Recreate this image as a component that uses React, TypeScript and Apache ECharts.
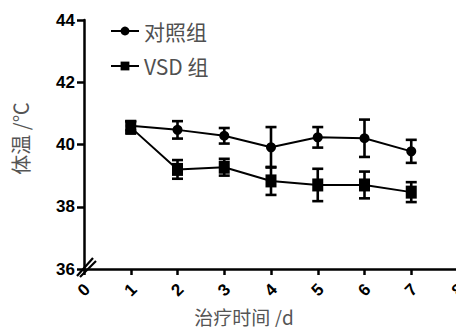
import React, { useEffect, useRef } from "react";
import * as echarts from "echarts";

const days = [1, 2, 3, 4, 5, 6, 7];
const controlMean = [40.6, 40.47, 40.28, 39.91, 40.23, 40.2, 39.78];
const controlErr = [0.15, 0.28, 0.25, 0.65, 0.33, 0.6, 0.37];
const vsdMean = [40.55, 39.2, 39.27, 38.83, 38.7, 38.7, 38.47];
const vsdErr = [0.2, 0.3, 0.27, 0.45, 0.52, 0.43, 0.32];
const seriesNames = ["对照组", "VSD 组"];
const xAxisTitle = "治疗时间 /d";
const yAxisTitle = "体温 /℃";

const errData = (mean: number[], err: number[]) =>
  days.map((d, i) => [d, mean[i] - err[i], mean[i] + err[i]]);

const renderErr = (params: any, api: any) => {
  const x = api.value(0);
  const lo = api.coord([x, api.value(1)]);
  const hi = api.coord([x, api.value(2)]);
  const cap = 5.5;
  const style = { stroke: "#000", lineWidth: 2.6 };
  return {
    type: "group",
    children: [
      { type: "line", shape: { x1: lo[0], y1: lo[1], x2: hi[0], y2: hi[1] }, style },
      { type: "line", shape: { x1: lo[0] - cap, y1: lo[1], x2: lo[0] + cap, y2: lo[1] }, style },
      { type: "line", shape: { x1: hi[0] - cap, y1: hi[1], x2: hi[0] + cap, y2: hi[1] }, style },
    ],
  };
};

export default function App() {
  const ref = useRef<HTMLDivElement>(null);
  useEffect(() => {
    if (!ref.current) return;
    const chart = echarts.init(ref.current, undefined, { renderer: "svg" });
    const labelFont = { fontFamily: "Arial, 'Liberation Sans', sans-serif", fontWeight: "bold" as const, fontSize: 17, color: "#000" };
    const cjk = "'Noto Sans CJK SC', Arial, sans-serif";
    chart.setOption({
      animation: false,
      backgroundColor: "#fff",
      grid: { left: 84, right: -2, top: 20, bottom: 58, containLabel: false, outerBoundsMode: "none" },
      legend: {
        data: seriesNames,
        orient: "vertical",
        left: 105,
        top: 15,
        itemWidth: 28,
        itemHeight: 11,
        itemGap: 13,
        textStyle: { fontSize: 21, color: "#505050", fontFamily: cjk, lineHeight: 22 },
      },
      xAxis: {
        type: "value",
        min: 0,
        max: 8,
        interval: 1,
        name: xAxisTitle,
        nameLocation: "middle",
        nameGap: 37,
        nameTextStyle: { fontSize: 19, color: "#555", fontFamily: cjk, lineHeight: 20, padding: [0, 54, 0, 0] },
        axisLine: { lineStyle: { color: "#000", width: 2.5 } },
        axisTick: { lineStyle: { color: "#000", width: 2.5 }, length: 6 },
        axisLabel: { ...labelFont, rotate: 45, align: "center", verticalAlign: "middle", margin: 21 },
        splitLine: { show: false },
      },
      yAxis: {
        type: "value",
        min: 36,
        max: 44,
        interval: 2,
        name: yAxisTitle,
        nameLocation: "middle",
        nameGap: 54,
        nameTextStyle: { fontSize: 20, color: "#555", fontFamily: cjk, padding: [0, 0, 0, 12] },
        axisLine: { show: true, lineStyle: { color: "#000", width: 2.5 } },
        axisTick: { show: true, lineStyle: { color: "#000", width: 2.5 }, length: 7 },
        axisLabel: { ...labelFont, margin: 9 },
        splitLine: { show: false },
      },
      series: [
        {
          name: seriesNames[0],
          type: "line",
          data: days.map((d, i) => [d, controlMean[i]]),
          symbol: "circle",
          symbolSize: 10,
          itemStyle: { color: "#000" },
          lineStyle: { color: "#000", width: 2 },
          z: 3,
        },
        {
          name: seriesNames[1],
          type: "line",
          data: days.map((d, i) => [d, vsdMean[i]]),
          symbol: "rect",
          symbolSize: [11, 13],
          itemStyle: { color: "#000" },
          lineStyle: { color: "#000", width: 2 },
          z: 3,
        },
        {
          type: "custom",
          renderItem: renderErr,
          data: errData(controlMean, controlErr),
          encode: { x: 0, y: [1, 2] },
          z: 2,
          silent: true,
        },
        {
          type: "custom",
          renderItem: renderErr,
          data: errData(vsdMean, vsdErr),
          encode: { x: 0, y: [1, 2] },
          z: 2,
          silent: true,
        },
      ],
    });
    const o = chart.convertToPixel({ gridIndex: 0 }, [0, 36]) as number[];
    const s = { stroke: "#000", lineWidth: 2.2 };
    chart.setOption({
      graphic: [
        { type: "line", shape: { x1: o[0] - 7, y1: o[1] + 7, x2: o[0] + 9, y2: o[1] - 11 }, style: s, z: 10 },
        { type: "line", shape: { x1: o[0] - 4, y1: o[1] + 8, x2: o[0] + 12, y2: o[1] - 8 }, style: s, z: 10 },
      ],
    });
    return () => chart.dispose();
  }, []);
  return <div ref={ref} style={{ position: "fixed", left: 0, top: 0, width: 456, height: 327 }} />;
}
